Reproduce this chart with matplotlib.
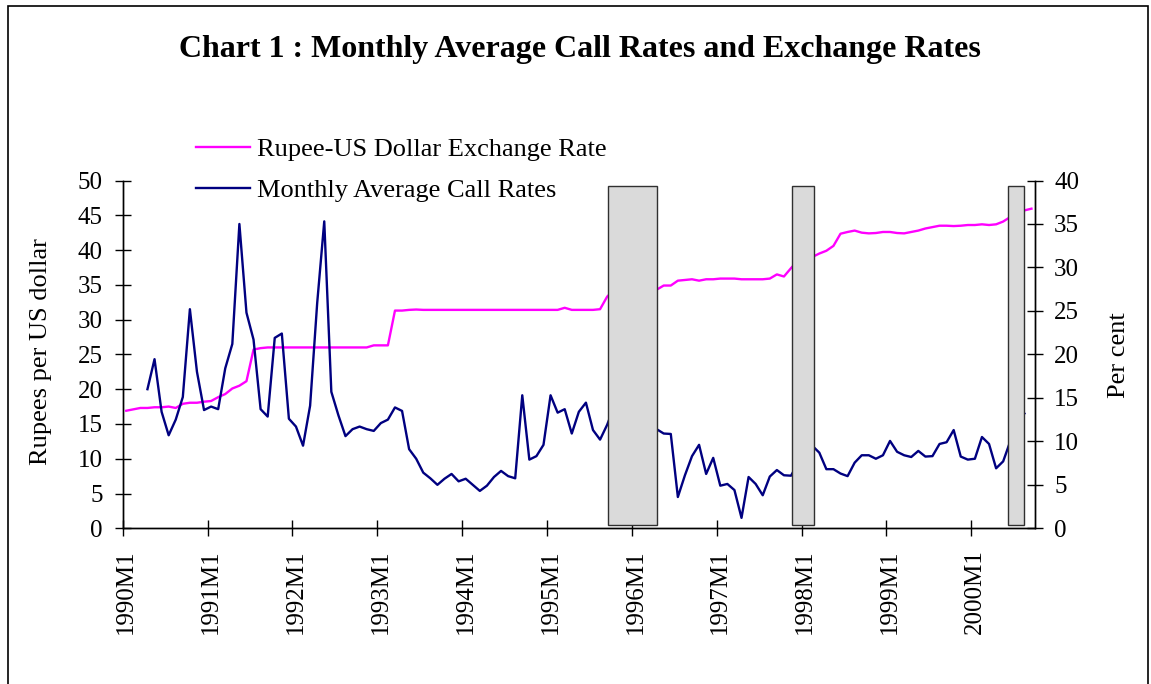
import numpy as np
from matplotlib import pyplot as plt
from matplotlib.patches import Rectangle
from matplotlib.lines import Line2D

# months 1990M1 .. 2000M9
months = [f"{y}M{m}" for y in range(1990, 2001) for m in range(1, 13)][:129]

# Rupee-US Dollar exchange rate (left axis)
rupee_rate = [
    16.9, 17.1, 17.3, 17.3, 17.4, 17.4, 17.5, 17.3, 17.9, 18.05, 18.05, 18.2,
    18.3, 18.85, 19.3, 20.1, 20.5, 21.15, 25.7, 25.9, 26.0, 26.0, 26.0, 26.0,
    26.0, 26.0, 26.0, 26.0, 26.0, 26.0, 26.0, 26.0, 26.0, 26.0, 26.0, 26.3,
    26.3, 26.3, 31.3, 31.3, 31.4, 31.45, 31.4, 31.4, 31.4, 31.4, 31.4, 31.4,
    31.4, 31.4, 31.4, 31.4, 31.4, 31.4, 31.4, 31.4, 31.4, 31.4, 31.4, 31.4,
    31.4, 31.4, 31.7, 31.4, 31.4, 31.4, 31.4, 31.5, 33.3, 34.3, 34.8, 35.2,
    35.8, 36.5, 34.8, 34.3, 34.9, 34.9, 35.6, 35.7, 35.8, 35.6, 35.8, 35.8,
    35.9, 35.9, 35.9, 35.8, 35.8, 35.8, 35.8, 35.9, 36.5, 36.2, 37.4, 38.5,
    39.4, 39.0, 39.5, 39.9, 40.6, 42.35, 42.6, 42.8, 42.5, 42.4, 42.45, 42.6,
    42.6, 42.45, 42.4, 42.6, 42.8, 43.1, 43.3, 43.5, 43.5, 43.45, 43.5, 43.6,
    43.6, 43.7, 43.6, 43.7, 44.1, 44.75, 45.3, 45.7, 45.95,
]

# monthly average call rates, per cent (right axis)
call_rate = [
    np.nan, np.nan, np.nan, 16.0, 19.45, 13.4, 10.7, 12.5, 15.1, 25.2, 18.0, 13.6,
    14.0, 13.7, 18.4, 21.2, 35.0, 24.8, 21.7, 13.7, 12.85, 21.9, 22.4, 12.6,
    11.7, 9.5, 14.1, 25.9, 35.3, 15.7, 13.0, 10.6, 11.4, 11.7, 11.4, 11.2,
    12.1, 12.5, 13.9, 13.5, 9.1, 8.0, 6.4, 5.75, 5.0, 5.7, 6.25, 5.4,
    5.7, 5.0, 4.3, 4.9, 5.9, 6.6, 6.0, 5.75, 15.3, 7.9, 8.3, 9.6,
    15.3, 13.3, 13.7, 10.9, 13.4, 14.45, 11.3, 10.2, 11.9, 14.0, 16.5, 15.0,
    17.0, 19.0, 14.5, 11.4, 10.9, 10.85, 3.6, 6.1, 8.3, 9.6, 6.25, 8.1,
    4.9, 5.1, 4.4, 1.2, 5.9, 5.1, 3.8, 5.95, 6.7, 6.1, 6.05, 7.5,
    11.0, 9.5, 8.7, 6.8, 6.8, 6.3, 6.0, 7.55, 8.4, 8.4, 8.0, 8.4,
    10.05, 8.8, 8.4, 8.2, 8.9, 8.25, 8.3, 9.7, 9.9, 11.3, 8.25, 7.9,
    8.0, 10.5, 9.7, 6.9, 7.7, 10.0, 12.0, 13.2, np.nan,
]

# shaded periods (in month index units, left-axis height)
shade_start = [68.65, 94.65, 125.2]
shade_end = [75.5, 97.7, 127.45]
shade_low = 0.5
shade_high = 49.25

W, H = 1151, 684
serif = ['Liberation Serif', 'DejaVu Serif']
plt.rcParams['font.family'] = serif


def main():
    fig = plt.figure(figsize=(W / 100, H / 100), dpi=100)
    left, right, top, bottom = 122.7, 1035, 180.5, 528.3
    ax = fig.add_axes([left / W, 1 - bottom / H, (right - left) / W, (bottom - top) / H])
    ax2 = ax.twinx()

    x = np.arange(len(months)) + 0.5
    ax.plot(x, rupee_rate, color='#ff00ff', lw=1.7, zorder=2)
    ax2.plot(x, call_rate, color='#000080', lw=1.7, zorder=2)

    # grey boxes on top of both lines
    for s, e in zip(shade_start, shade_end):
        ax2.add_patch(Rectangle((s, shade_low), e - s, shade_high - shade_low,
                                transform=ax.transData, facecolor='#dadada',
                                edgecolor='#303030', lw=1.0, zorder=5))

    ax.set_xlim(0, len(months))
    ax.set_ylim(0, 50)
    ax2.set_ylim(0, 40)
    ax.set_yticks(range(0, 51, 5))
    ax2.set_yticks(range(0, 41, 5))

    ax.set_xticks(range(0, len(months), 12))
    ax.set_xticklabels([])
    ax.set_xticks(np.arange(0, len(months), 12) + 0.5, minor=True)
    ax.set_xticklabels([months[i] for i in range(0, len(months), 12)], minor=True,
                       rotation=90, va='top', ha='center')

    for a in (ax, ax2):
        a.spines['top'].set_visible(False)
        for sp in a.spines.values():
            sp.set_linewidth(1.0)
    ax.tick_params(axis='y', direction='inout', length=11, width=1, labelsize=18, pad=9)
    ax2.tick_params(axis='y', direction='inout', length=11, width=1, labelsize=18, pad=8.2)
    ax.tick_params(axis='x', which='major', direction='inout', length=11, width=1)
    ax.tick_params(axis='x', which='minor', length=0, labelsize=18, pad=15.3)

    fig.text(41 / W, 1 - 352 / H, 'Rupees per US dollar', rotation=90,
             ha='center', va='center', fontsize=19)
    fig.text(1119 / W, 1 - 355 / H, 'Per cent', rotation=90,
             ha='center', va='center', fontsize=19)
    fig.text(580 / W, 1 - 49 / H, 'Chart 1 : Monthly Average Call Rates and Exchange Rates',
             ha='center', va='center', fontsize=23, fontweight='bold')

    handles = [Line2D([], [], color='#ff00ff', lw=1.7),
               Line2D([], [], color='#000080', lw=1.7)]
    fig.legend(handles, ['Rupee-US Dollar Exchange Rate', 'Monthly Average Call Rates'],
               loc='upper left', bbox_to_anchor=(196 / W, 1 - 138 / H),
               frameon=False, fontsize=19, borderpad=0, borderaxespad=0,
               handlelength=2.05, handletextpad=0.25, labelspacing=0.66)

    # outer frame of the chart, open at the bottom edge
    fig.patches.append(Rectangle((8 / W, -0.02), (1148 - 8) / W, 1 - 6 / H + 0.02,
                                 transform=fig.transFigure, fill=False,
                                 edgecolor='black', lw=1.2))

    fig.savefig('out.png', dpi=100)


if __name__ == '__main__':
    main()
